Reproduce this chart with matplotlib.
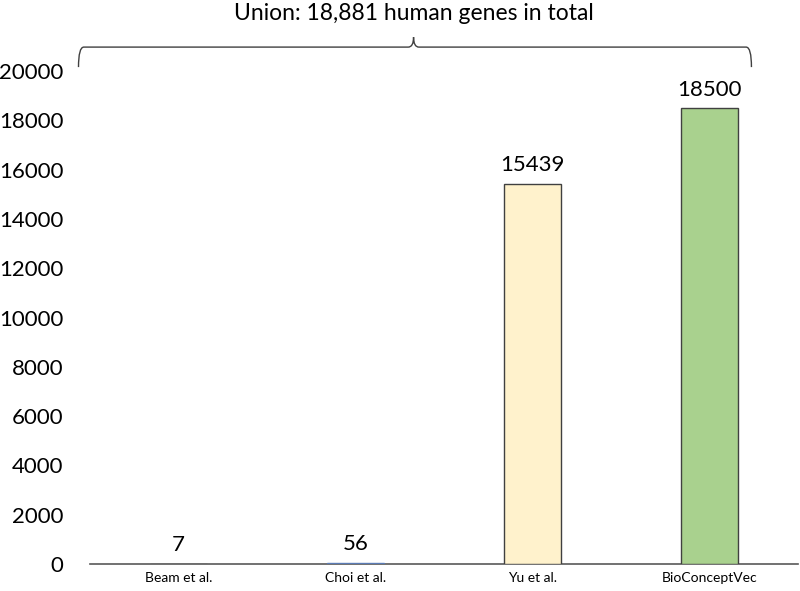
import matplotlib.pyplot as plt
from matplotlib.path import Path
from matplotlib.patches import PathPatch

plt.rcParams['font.family'] = ['Lato', 'DejaVu Sans']

methods = ['Beam et al.', 'Choi et al.', 'Yu et al.', 'BioConceptVec']
genes = [7, 56, 15439, 18500]
fills = ['#595959', '#5B7BB5', '#FFF2CC', '#A9D18E']
edges = ['#595959', '#5B7BB5', '#404040', '#404040']
yticks = [0, 2000, 4000, 6000, 8000, 10000, 12000, 14000, 16000, 18000, 20000]
union_text = 'Union: 18,881 human genes in total'

fig = plt.figure(figsize=(8, 5.91), dpi=100)
ax = fig.add_axes([0.1125, 0.0457, 0.885, 0.834])

x = range(len(methods))
bars = ax.bar(x, genes, width=0.32, color=fills, edgecolor=edges,
              linewidth=1, zorder=3)

for xi, v in zip(x, genes):
    ax.annotate(str(v), (xi, v), xytext=(0, 6), textcoords='offset points',
                ha='center', va='bottom', fontsize=16)

ax.set_xlim(-0.5, 3.5)
ax.set_ylim(0, 20000)
ax.set_yticks(yticks)
ax.set_xticks(list(x))
ax.set_xticklabels(methods, fontsize=10)
ax.tick_params(axis='y', length=0, labelsize=16, pad=19)
ax.tick_params(axis='x', length=0, pad=6)
for s in ['top', 'right', 'left']:
    ax.spines[s].set_visible(False)
ax.spines['bottom'].set_color('#595959')
ax.spines['bottom'].set_linewidth(1.2)

# curly brace spanning all methods
x0, x1, xm = -0.565, 3.237, 1.328
yb, yl, yt = 20974, 20162, 21379
dx = 0.03
verts = [(x0, yl), (x0, yb), (x0 + dx, yb),
         (xm - dx, yb), (xm, yb), (xm, yt),
         (xm, yb), (xm + dx, yb),
         (x1 - dx, yb), (x1, yb), (x1, yl)]
codes = [Path.MOVETO, Path.CURVE3, Path.CURVE3,
         Path.LINETO, Path.CURVE3, Path.CURVE3,
         Path.CURVE3, Path.CURVE3,
         Path.LINETO, Path.CURVE3, Path.CURVE3]
brace = PathPatch(Path(verts, codes), fill=False, edgecolor='#404040',
                  linewidth=1, clip_on=False)
ax.add_patch(brace)
ax.text(xm, 22350, union_text, ha='center', va='center', fontsize=16.5)

fig.savefig('out.png', dpi=100)
